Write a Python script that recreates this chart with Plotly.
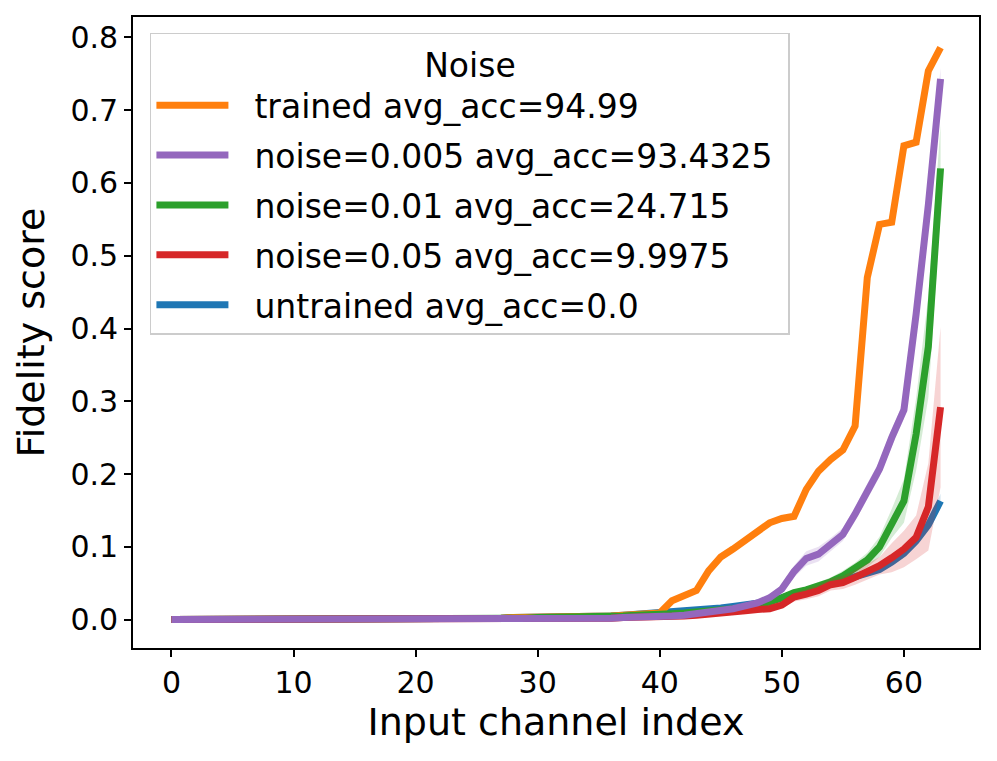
import plotly.graph_objects as go

# input channel index 0..63
channels = list(range(64))

untrained = [0.000, 0.000, 0.000, 0.000, 0.000, 0.000, 0.000, 0.000, 0.000, 0.000,
             0.000, 0.000, 0.000, 0.000, 0.000, 0.001, 0.001, 0.001, 0.001, 0.001,
             0.001, 0.001, 0.001, 0.002, 0.002, 0.002, 0.002, 0.002, 0.003, 0.003,
             0.003, 0.003, 0.004, 0.004, 0.004, 0.005, 0.005, 0.006, 0.007, 0.008,
             0.009, 0.011, 0.012, 0.013, 0.015, 0.016, 0.018, 0.020, 0.022, 0.025,
             0.030, 0.036, 0.040, 0.044, 0.049, 0.053, 0.058, 0.063, 0.069, 0.079,
             0.091, 0.108, 0.130, 0.163]
untrained_std = [
             0.000, 0.000, 0.000, 0.000, 0.000, 0.000, 0.000, 0.000, 0.000, 0.000,
             0.000, 0.000, 0.000, 0.000, 0.000, 0.000, 0.000, 0.000, 0.000, 0.000,
             0.000, 0.000, 0.000, 0.000, 0.000, 0.000, 0.000, 0.000, 0.000, 0.000,
             0.001, 0.001, 0.001, 0.001, 0.001, 0.001, 0.001, 0.001, 0.001, 0.001,
             0.001, 0.001, 0.001, 0.001, 0.002, 0.002, 0.002, 0.002, 0.002, 0.002,
             0.002, 0.003, 0.003, 0.003, 0.003, 0.003, 0.004, 0.004, 0.004, 0.005,
             0.006, 0.007, 0.008, 0.010]

trained = [0.000, 0.000, 0.000, 0.000, 0.000, 0.000, 0.000, 0.000, 0.000, 0.000,
           0.000, 0.000, 0.000, 0.000, 0.000, 0.001, 0.001, 0.001, 0.001, 0.001,
           0.001, 0.001, 0.001, 0.002, 0.002, 0.002, 0.002, 0.002, 0.003, 0.003,
           0.003, 0.003, 0.004, 0.004, 0.004, 0.005, 0.005, 0.006, 0.007, 0.008,
           0.009, 0.026, 0.032, 0.040, 0.067, 0.086, 0.097, 0.110, 0.120, 0.133,
           0.139, 0.142, 0.179, 0.204, 0.220, 0.233, 0.266, 0.470, 0.543, 0.546,
           0.651, 0.656, 0.754, 0.786]

noise_005 = [0.000, 0.000, 0.000, 0.000, 0.000, 0.000, 0.000, 0.000, 0.000, 0.000,
             0.000, 0.000, 0.000, 0.000, 0.000, 0.000, 0.000, 0.000, 0.000, 0.000,
             0.000, 0.000, 0.000, 0.000, 0.001, 0.001, 0.001, 0.001, 0.001, 0.001,
             0.001, 0.001, 0.001, 0.001, 0.002, 0.002, 0.002, 0.003, 0.003, 0.004,
             0.004, 0.005, 0.006, 0.008, 0.010, 0.012, 0.015, 0.019, 0.023, 0.030,
             0.042, 0.066, 0.084, 0.090, 0.103, 0.117, 0.145, 0.176, 0.207, 0.250,
             0.288, 0.420, 0.570, 0.743]
noise_005_std = [
             0.000, 0.000, 0.000, 0.000, 0.000, 0.000, 0.000, 0.000, 0.000, 0.000,
             0.000, 0.000, 0.000, 0.000, 0.000, 0.000, 0.000, 0.000, 0.000, 0.000,
             0.000, 0.000, 0.000, 0.000, 0.000, 0.000, 0.000, 0.000, 0.000, 0.000,
             0.000, 0.000, 0.000, 0.000, 0.000, 0.000, 0.000, 0.001, 0.001, 0.001,
             0.001, 0.001, 0.001, 0.001, 0.002, 0.002, 0.002, 0.002, 0.003, 0.004,
             0.006, 0.008, 0.010, 0.010, 0.009, 0.009, 0.010, 0.011, 0.011, 0.012,
             0.012, 0.015, 0.018, 0.015]

noise_01 = [0.000, 0.000, 0.000, 0.000, 0.000, 0.000, 0.000, 0.000, 0.000, 0.000,
            0.000, 0.000, 0.000, 0.000, 0.000, 0.000, 0.001, 0.001, 0.001, 0.001,
            0.001, 0.001, 0.001, 0.001, 0.001, 0.002, 0.002, 0.002, 0.002, 0.002,
            0.003, 0.003, 0.003, 0.003, 0.004, 0.004, 0.005, 0.005, 0.006, 0.006,
            0.007, 0.008, 0.009, 0.010, 0.011, 0.013, 0.015, 0.017, 0.020, 0.024,
            0.030, 0.037, 0.041, 0.046, 0.052, 0.060, 0.070, 0.082, 0.100, 0.132,
            0.163, 0.255, 0.375, 0.620]
noise_01_std = [
            0.000, 0.000, 0.000, 0.000, 0.000, 0.000, 0.000, 0.000, 0.000, 0.000,
            0.000, 0.000, 0.000, 0.000, 0.000, 0.000, 0.000, 0.000, 0.000, 0.000,
            0.000, 0.000, 0.000, 0.000, 0.000, 0.000, 0.000, 0.000, 0.000, 0.000,
            0.000, 0.000, 0.000, 0.000, 0.001, 0.001, 0.001, 0.001, 0.001, 0.001,
            0.001, 0.001, 0.001, 0.002, 0.002, 0.002, 0.002, 0.002, 0.003, 0.003,
            0.003, 0.004, 0.004, 0.005, 0.006, 0.007, 0.008, 0.010, 0.014, 0.020,
            0.030, 0.050, 0.070, 0.060]

noise_05 = [0.000, 0.000, 0.000, 0.000, 0.000, 0.000, 0.000, 0.000, 0.000, 0.000,
            0.000, 0.000, 0.000, 0.000, 0.000, 0.000, 0.000, 0.000, 0.000, 0.000,
            0.000, 0.000, 0.000, 0.000, 0.000, 0.001, 0.001, 0.001, 0.001, 0.001,
            0.001, 0.001, 0.001, 0.002, 0.002, 0.002, 0.002, 0.003, 0.003, 0.003,
            0.004, 0.005, 0.005, 0.006, 0.007, 0.008, 0.010, 0.012, 0.014, 0.015,
            0.020, 0.031, 0.035, 0.040, 0.048, 0.051, 0.058, 0.066, 0.074, 0.085,
            0.097, 0.113, 0.155, 0.292]
noise_05_std = [
            0.000, 0.000, 0.000, 0.000, 0.000, 0.000, 0.000, 0.000, 0.000, 0.000,
            0.000, 0.000, 0.000, 0.000, 0.000, 0.000, 0.000, 0.000, 0.000, 0.000,
            0.000, 0.000, 0.000, 0.000, 0.000, 0.000, 0.000, 0.000, 0.000, 0.000,
            0.000, 0.000, 0.000, 0.000, 0.001, 0.001, 0.001, 0.001, 0.001, 0.001,
            0.001, 0.001, 0.001, 0.002, 0.002, 0.002, 0.002, 0.003, 0.003, 0.003,
            0.004, 0.006, 0.007, 0.008, 0.008, 0.009, 0.010, 0.011, 0.012, 0.020,
            0.025, 0.030, 0.060, 0.110]

# drawing order (bottom -> top), legend rank sets the legend order
series = [
    ("untrained avg_acc=0.0", untrained, untrained_std, (31, 119, 180), 5),
    ("trained avg_acc=94.99", trained, None, (255, 127, 14), 1),
    ("noise=0.01 avg_acc=24.715", noise_01, noise_01_std, (44, 160, 44), 3),
    ("noise=0.05 avg_acc=9.9975", noise_05, noise_05_std, (214, 39, 40), 4),
    ("noise=0.005 avg_acc=93.4325", noise_005, noise_005_std, (148, 103, 189), 2),
]

nb = '\u00a0'
fig = go.Figure()

for name, mean, std, rgb, rank in series:
    color = 'rgb(%d,%d,%d)' % rgb
    band = 'rgba(%d,%d,%d,0.2)' % rgb
    if std is not None:
        lower = [m - s for m, s in zip(mean, std)]
        upper = [m + s for m, s in zip(mean, std)]
        fig.add_trace(go.Scatter(x=channels, y=lower, mode='lines', line=dict(width=0),
                                 showlegend=False, hoverinfo='skip'))
        fig.add_trace(go.Scatter(x=channels, y=upper, mode='lines', line=dict(width=0),
                                 fill='tonexty', fillcolor=band,
                                 showlegend=False, hoverinfo='skip'))
    label = nb * 2 + name + (nb if rank == 2 else '')
    fig.add_trace(go.Scatter(x=channels, y=mean, mode='lines', name=label,
                             line=dict(color=color, width=7),
                             legendgroup=name, legendrank=rank))

axis_common = dict(
    showline=True, linecolor='black', linewidth=1.6, mirror=True,
    ticks='outside', ticklen=7, tickwidth=1.6, tickcolor='black',
    showgrid=False, zeroline=False, automargin=False,
    tickfont=dict(size=30, color='black'),
)

# the page body adds an 8px offset, so the figure is 8px smaller
fig.update_layout(
    width=989, height=753,
    plot_bgcolor='white', paper_bgcolor='white',
    margin=dict(l=125, r=18, t=9, b=113),
    font=dict(family="DejaVu Sans, sans-serif", color='black'),
    xaxis=dict(axis_common, range=[-3.15, 66.15], tickvals=[0, 10, 20, 30, 40, 50, 60],
               title=dict(text='Input channel index', font=dict(size=38), standoff=10)),
    yaxis=dict(axis_common, range=[-0.039, 0.828],
               tickvals=[0.0, 0.1, 0.2, 0.3, 0.4, 0.5, 0.6, 0.7, 0.8], tickformat='.1f',
               title=dict(text='Fidelity score', font=dict(size=38), standoff=14)),
    legend=dict(
        x=0.02, y=0.975, xanchor='left', yanchor='top',
        bgcolor='rgba(255,255,255,0.8)', bordercolor='#cccccc', borderwidth=1.5,
        font=dict(size=33), itemwidth=72, tracegroupgap=4,
        title=dict(text='Noise', side='top center', font=dict(size=33)),
    ),
)

fig.write_html("out.html")
